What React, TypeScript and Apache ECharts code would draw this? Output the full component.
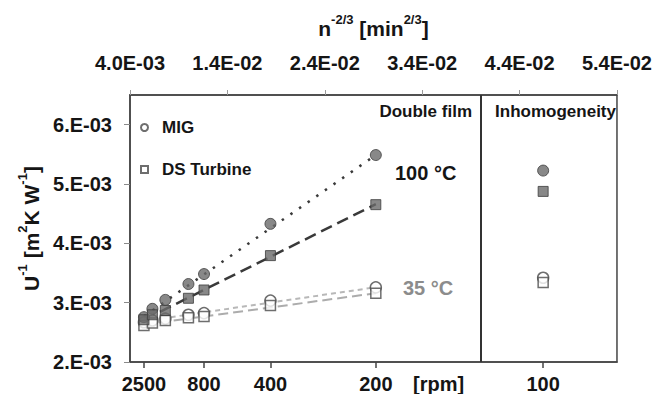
import React, { useEffect, useRef } from "react";
import * as echarts from "echarts";

// n^-2/3 positions [min^2/3] of the stirrer speeds 2500, 2000, 1500, 1000, 800, 400, 200 rpm
const speedX = [0.00543, 0.0063, 0.00763, 0.01, 0.0116, 0.01842, 0.02924];
// position of 100 rpm (inhomogeneity panel)
const inhomX = 0.04642;

// bottom axis (rpm) tick labels and their positions
const rpmLabels = ["2500", "800", "400", "200", "100"];
const rpmTickX = [0.00543, 0.0116, 0.01842, 0.02924, 0.04642];

// top axis ticks
const topTicks = [0.004, 0.014, 0.024, 0.034, 0.044, 0.054];
// left axis ticks
const yTicks = [0.002, 0.003, 0.004, 0.005, 0.006];

// U^-1 [m2 K W-1]
const mig100 = [0.002756, 0.002896, 0.003047, 0.003314, 0.003482, 0.004328, 0.005488];
const ds100 = [0.002712, 0.002796, 0.002868, 0.003074, 0.003214, 0.003793, 0.004652];
const mig35 = [0.00267, 0.0027, 0.00273, 0.002796, 0.002823, 0.003035, 0.003258];
const ds35 = [0.002617, 0.002656, 0.0027, 0.002746, 0.002767, 0.002951, 0.003157];

// inhomogeneity values (100 rpm)
const inhomMig100 = 0.005226;
const inhomDs100 = 0.004875;
const inhomMig35 = 0.00342;
const inhomDs35 = 0.00334;

// trend lines (end points)
const fitX = [0.00543, 0.02924];
const fitMig100 = [0.00277, 0.00549];
const fitDs100 = [0.00271, 0.00466];
const fitMig35 = [0.00269, 0.00326];
const fitDs35 = [0.00263, 0.00316];

const dividerX = 0.0397;

const FONT = "'Liberation Sans', Arial, sans-serif";
const TXT = "#151515";
const AX = "#454545";

function expLabel(v: number, digits: number, dotOnly: boolean) {
  const s = v.toExponential(digits);
  const [m, e] = s.split("e");
  const n = parseInt(e, 10);
  const mant = dotOnly ? m + "." : m;
  return mant + "E" + (n < 0 ? "-" : "+") + String(Math.abs(n)).padStart(2, "0");
}

function zip(xs: number[], ys: number[]) {
  return xs.map((x, i) => [x, ys[i]]);
}

export default function App() {
  const ref = useRef<HTMLDivElement>(null);
  useEffect(() => {
    if (!ref.current) return;
    const chart = echarts.init(ref.current, undefined, { renderer: "svg" });
    const tickLabel = { fontFamily: FONT, fontWeight: "bold", fontSize: 20, color: TXT };
    const dark = { color: "#6a6a6a", borderColor: "#3c3c3c", borderWidth: 1 };
    const open = { color: "#ffffff", borderColor: "#4a4a4a", borderWidth: 1.5 };
    const lineSeries = (name: string, ys: number[], color: string, width: number, type: any) => ({
      type: "line",
      name,
      data: zip(fitX, ys),
      symbol: "none",
      silent: true,
      xAxisIndex: 0,
      lineStyle: { color, width, type },
      z: 1,
    });
    const option: any = {
      animation: false,
      grid: {
        left: 130,
        right: 35,
        top: 95,
        bottom: 32,
        show: true,
        borderColor: AX,
        borderWidth: 1.5,
      },
      legend: {
        data: ["MIG", "DS Turbine"],
        orient: "vertical",
        left: 140,
        top: 119,
        padding: 0,
        itemWidth: 7,
        itemHeight: 7,
        itemGap: 25,
        selectedMode: false,
        textStyle: { fontFamily: FONT, fontWeight: "bold", fontSize: 17, color: TXT, padding: [0, 0, 0, 9] },
      },
      xAxis: [
        {
          type: "value",
          position: "bottom",
          min: 0.004,
          max: 0.054,
          axisLine: { show: true, lineStyle: { color: AX, width: 1.5 } },
          axisTick: { show: true, customValues: rpmTickX, length: 6, lineStyle: { color: AX, width: 1.5 } },
          axisLabel: {
            customValues: rpmTickX,
            margin: 12,
            ...tickLabel,
            formatter: (v: number) => {
              let best = 0;
              rpmTickX.forEach((t, i) => {
                if (Math.abs(t - v) < Math.abs(rpmTickX[best] - v)) best = i;
              });
              return rpmLabels[best];
            },
          },
          splitLine: { show: false },
        },
        {
          type: "value",
          position: "top",
          min: 0.004,
          max: 0.054,
          name: "{a|n}{s|-2/3}{a| [min}{s|2/3}{a|]}",
          nameLocation: "middle",
          nameGap: 56,
          nameTextStyle: {
            rich: {
              a: { fontFamily: FONT, fontWeight: "bold", fontSize: 21, color: TXT, lineHeight: 26, verticalAlign: "bottom" },
              s: { fontFamily: FONT, fontWeight: "bold", fontSize: 13, color: TXT, lineHeight: 26, verticalAlign: "top" },
            },
          },
          axisLine: { show: true, lineStyle: { color: AX, width: 1.5 } },
          axisTick: { show: true, customValues: topTicks, length: 5, lineStyle: { color: "#9a9a9a", width: 1 } },
          axisLabel: {
            customValues: topTicks,
            margin: 22,
            ...tickLabel,
            formatter: (v: number) => expLabel(v, 1, false),
          },
          splitLine: { show: false },
        },
      ],
      yAxis: {
        type: "value",
        min: 0.002,
        max: 0.0065,
        name: "{a|U}{s|-1}{a| [m}{s|2}{a|K W}{s|-1}{a|]}",
        nameLocation: "middle",
        nameRotate: 90,
        nameGap: 86,
        nameTextStyle: {
          rich: {
            a: { fontFamily: FONT, fontWeight: "bold", fontSize: 21, color: TXT, lineHeight: 26, verticalAlign: "bottom" },
            s: { fontFamily: FONT, fontWeight: "bold", fontSize: 13, color: TXT, lineHeight: 26, verticalAlign: "top" },
          },
        },
        axisLine: { show: true, lineStyle: { color: AX, width: 1.5 } },
        axisTick: { show: true, customValues: yTicks, length: 6, lineStyle: { color: "#8a8a8a", width: 1 } },
        axisLabel: {
          customValues: yTicks,
          margin: 18,
          ...tickLabel,
          formatter: (v: number) => expLabel(v, 0, true),
        },
        splitLine: { show: false },
      },
      series: [
        lineSeries("fit DS 35", fitDs35, "#acacac", 2, [10, 5]),
        lineSeries("fit MIG 35", fitMig35, "#b8b8b8", 2, [5, 4]),
        lineSeries("fit DS 100", fitDs100, "#3a3a3a", 2.5, [12, 6]),
        {
          ...lineSeries("fit MIG 100", fitMig100, "#3a3a3a", 2.5, [2.5, 8]),
          markLine: {
            silent: true,
            symbol: "none",
            label: { show: false },
            lineStyle: { color: "#333", width: 2, type: "solid" },
            data: [{ xAxis: dividerX }],
          },
        },
        {
          type: "scatter",
          name: "MIG",
          symbol: "circle",
          symbolSize: 11,
          itemStyle: open,
          data: [...zip(speedX, mig35), [inhomX, inhomMig35]],
          z: 3,
        },
        {
          type: "scatter",
          name: "DS Turbine",
          symbol: "rect",
          symbolSize: 10,
          itemStyle: open,
          data: [...zip(speedX, ds35), [inhomX, inhomDs35]],
          z: 3,
        },
        {
          type: "scatter",
          name: "MIG 100",
          symbol: "circle",
          symbolSize: 11,
          itemStyle: dark,
          data: [...zip(speedX, mig100), [inhomX, inhomMig100]],
          z: 3,
        },
        {
          type: "scatter",
          name: "DS 100",
          symbol: "rect",
          symbolSize: 10,
          itemStyle: dark,
          data: [...zip(speedX, ds100), [inhomX, inhomDs100]],
          z: 3,
        },
      ],
      graphic: [
        {
          type: "text",
          x: 472,
          y: 111,
          style: { text: "Double film", fontFamily: FONT, fontWeight: "bold", fontSize: 17, fill: TXT, align: "right", verticalAlign: "middle" },
        },
        {
          type: "text",
          x: 616,
          y: 111,
          style: { text: "Inhomogeneity", fontFamily: FONT, fontWeight: "bold", fontSize: 17, fill: TXT, align: "right", verticalAlign: "middle" },
        },
        {
          type: "text",
          x: 395,
          y: 173,
          style: { text: "100 °C", fontFamily: FONT, fontWeight: "bold", fontSize: 20, fill: TXT, align: "left", verticalAlign: "middle" },
        },
        {
          type: "text",
          x: 403,
          y: 288,
          style: { text: "35 °C", fontFamily: FONT, fontWeight: "bold", fontSize: 20, fill: "#8c8c8c", align: "left", verticalAlign: "middle" },
        },
        {
          type: "text",
          x: 413,
          y: 384,
          style: { text: "[rpm]", fontFamily: FONT, fontWeight: "bold", fontSize: 20, fill: TXT, align: "left", verticalAlign: "middle" },
        },
      ],
    };
    chart.setOption(option);
    return () => chart.dispose();
  }, []);
  return (
    <div
      ref={ref}
      style={{ position: "fixed", left: 0, top: 0, width: 655, height: 394, background: "#fff" }}
    />
  );
}
